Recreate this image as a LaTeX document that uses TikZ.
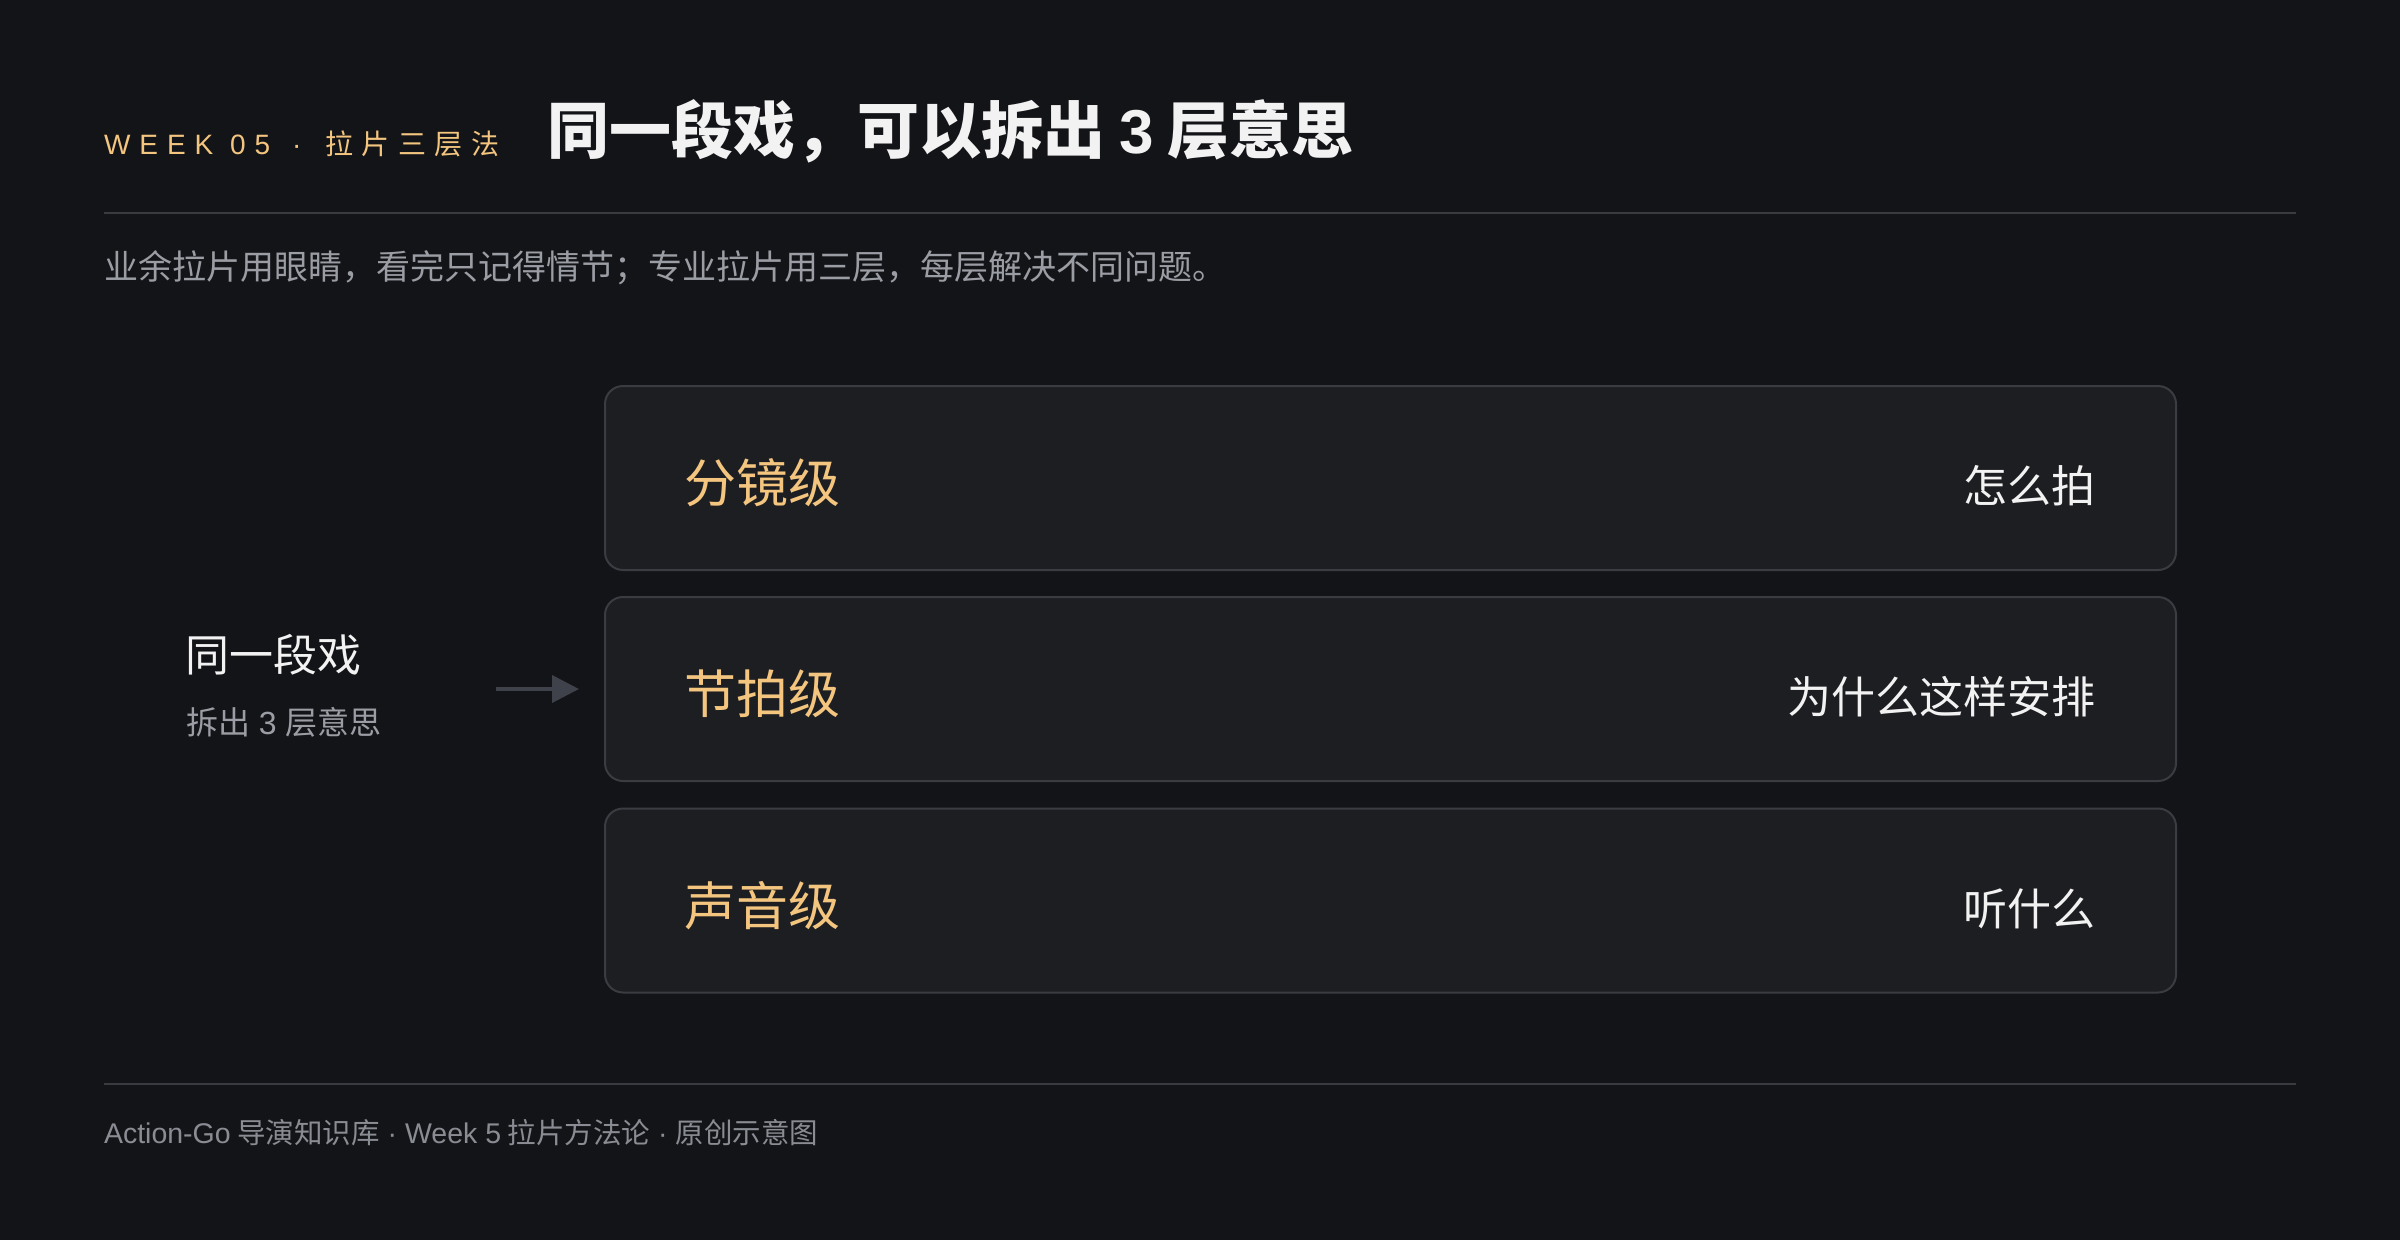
\documentclass[tikz,border=0pt]{standalone}
\usepackage{fontspec}
\setmainfont{Noto Sans CJK SC}
\newfontfamily\lat{Liberation Sans}
\newfontfamily\latsp[LetterSpace=32]{Liberation Sans}
\newfontfamily\cjksp[LetterSpace=30]{Noto Sans CJK SC}
\usetikzlibrary{arrows.meta}
\definecolor{bg}{HTML}{131418}
\definecolor{boxfill}{HTML}{1D1E22}
\definecolor{boxline}{HTML}{3B3C42}
\definecolor{rulec}{HTML}{3A3B40}
\definecolor{accent}{HTML}{F3C57F}
\definecolor{maintext}{HTML}{F2F2F2}
\definecolor{subtext}{HTML}{9B9DA4}
\definecolor{foottext}{HTML}{8A8C93}
\definecolor{arrowc}{HTML}{3F424A}
\tikzset{
  layerbox/.style={draw=boxline, line width=2pt, fill=boxfill, rounded corners=18pt,
    minimum width=1571pt, minimum height=184pt},
  rule/.style={draw=rulec, line width=2pt},
  layerlabel/.style={anchor=west, text=accent, font=\fontsize{52}{58}\selectfont},
  layerdesc/.style={anchor=east, text=maintext, font=\fontsize{44}{50}\selectfont},
  flow/.style={draw=arrowc, line width=4pt, -{Triangle[length=27pt,width=27pt]}, shorten >=26pt}
}
\begin{document}
\begin{tikzpicture}[x=1pt,y=-1pt, every node/.style={inner sep=0pt, outer sep=0pt}]
\useasboundingbox (0,0) rectangle (2400,1240);
\fill[bg] (0,0) rectangle (2400,1240);

% header
\node[anchor=base west, text=accent] (kicker) at (104,154)
  {\fontsize{28}{30}\selectfont{\latsp WEEK 05}\hspace{22pt}{\lat ·}\hspace{24pt}{\cjksp 拉片三层法}};
\node[anchor=base west, text=maintext] (title) at (547,153)
  {\fontsize{62}{70}\selectfont\bfseries 同一段戏，可以拆出 {\lat\bfseries 3} 层意思};
\coordinate (r1a) at (104,213);
\coordinate (r1b) at (2296,213);
\draw[rule] (r1a) -- (r1b);
\node[anchor=base west, text=subtext] (subtitle) at (104,279)
  {\fontsize{34}{40}\selectfont 业余拉片用眼睛，看完只记得情节；专业拉片用三层，每层解决不同问题。};

% layers
\node[layerbox] (b1) at (1390.5,478) {};
\node[layerbox] (b2) at (1390.5,689) {};
\node[layerbox] (b3) at (1390.5,900.5) {};
\node[layerlabel] (b1l) at ([xshift=79pt,yshift=-5pt]b1.west) {分镜级};
\node[layerlabel] (b2l) at ([xshift=79pt,yshift=-5pt]b2.west) {节拍级};
\node[layerlabel] (b3l) at ([xshift=79pt,yshift=-5pt]b3.west) {声音级};
\node[layerdesc] (b1d) at ([xshift=-81pt,yshift=-8pt]b1.east) {怎么拍};
\node[layerdesc] (b2d) at ([xshift=-81pt,yshift=-8pt]b2.east) {为什么这样安排};
\node[layerdesc] (b3d) at ([xshift=-81pt,yshift=-8pt]b3.east) {听什么};

% source
\node[anchor=west, text=maintext] (src) at (185,655)
  {\fontsize{44}{50}\selectfont 同一段戏};
\node[anchor=west, text=subtext] (srcsub) at (186,722)
  {\fontsize{32}{36}\selectfont 拆出{\lat\ 3\ }层意思};
\coordinate (arrs) at (496,689);
\draw[flow] (arrs) -- (b2.west);

% footer
\coordinate (r2a) at (104,1084);
\coordinate (r2b) at (2296,1084);
\draw[rule] (r2a) -- (r2b);
\node[anchor=west, text=foottext] (footer) at (104,1133)
  {\fontsize{28.5}{32}\selectfont{\lat Action-Go} 导演知识库\hspace{8pt}{\lat ·}\hspace{8pt}{\lat Week 5} 拉片方法论\hspace{8pt}{\lat ·}\hspace{8pt}原创示意图};
\end{tikzpicture}
\end{document}
